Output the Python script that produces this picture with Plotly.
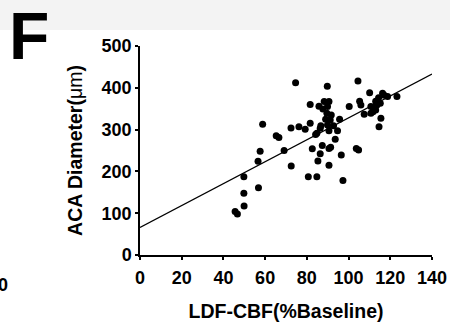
import plotly.graph_objects as go

# Data
ldf_cbf = [45.6, 46.7, 49.9, 49.8, 49.8, 56.8, 56.6, 57.6, 58.8, 65.3, 66.6, 69.1, 72.5, 72.4,
           74.6, 76.2, 79.2, 81.6, 81.6, 80.7, 84.8, 82.6, 84.2, 84.8, 85.3, 85.8, 86.4, 86.4,
           86.7, 87.4, 87.7, 88.3, 89.0, 89.6, 89.8, 89.9, 89.9, 90.6, 90.6, 90.6, 91.4, 90.6,
           91.2, 91.7, 92.8, 93.6, 94.7, 95.7, 96.5, 97.3, 100.3, 103.7, 104.8, 104.5, 105.3,
           105.9, 107.5, 110.1, 110.7, 110.7, 111.7, 113.0, 113.0, 113.6, 114.4, 114.6, 115.2,
           115.5, 116.3, 117.1, 118.7, 123.2]
aca_diameter = [104, 98, 117, 148, 187, 161, 224, 248, 313, 285, 281, 250, 213, 304,
                412, 307, 301, 315, 360, 187, 187, 254, 288, 291, 225, 356, 242, 303,
                309, 262, 349, 367, 325, 339, 404, 311, 355, 367, 297, 255, 258, 215,
                323, 335, 309, 277, 297, 325, 239, 178, 355, 255, 251, 416, 368,
                359, 337, 388, 355, 339, 343, 347, 368, 359, 376, 307, 363,
                327, 387, 382, 379, 379]

fit_x = [0, 140]
fit_intercept = 66
fit_slope = 2.62
fit_y = [fit_intercept + fit_slope * v for v in fit_x]

x_ticks = [0, 20, 40, 60, 80, 100, 120, 140]
y_ticks = [0, 100, 200, 300, 400, 500]

FONT = "Liberation Sans, Arial, sans-serif"

fig = go.Figure()
fig.add_trace(go.Scatter(x=fit_x, y=fit_y, mode="lines",
                         line=dict(color="black", width=1.3), hoverinfo="skip"))
fig.add_trace(go.Scatter(x=ldf_cbf, y=aca_diameter, mode="markers",
                         marker=dict(color="black", size=7, line=dict(width=0))))

axis_common = dict(showgrid=False, zeroline=False, showline=True, linecolor="black",
                   linewidth=1.5, ticks="outside", ticklen=3, tickwidth=1.5, tickcolor="black",
                   tickfont=dict(family=FONT, size=18, color="black", weight="bold"))

fig.update_xaxes(range=[0, 140], tickvals=x_ticks, ticktext=[str(v) for v in x_ticks],
                 ticklabelstandoff=3,
                 title=dict(text="LDF-CBF(%Baseline)", standoff=19,
                            font=dict(family=FONT, size=19.5, color="black", weight="bold")),
                 **axis_common)
fig.update_yaxes(range=[0, 500], tickvals=y_ticks, ticktext=[str(v) for v in y_ticks],
                 title=dict(text="ACA Diameter(<span style='font-weight:normal'>μm</span>)", standoff=14,
                            font=dict(family=FONT, size=19.5, color="black", weight="bold")),
                 **axis_common)

fig.update_layout(
    width=450, height=322,
    margin=dict(l=140, r=18, t=46, b=67, autoexpand=False),
    paper_bgcolor="white", plot_bgcolor="white",
    showlegend=False,
    shapes=[dict(type="rect", xref="paper", yref="paper", x0=-0.5, x1=1.1, y0=1.077, y1=1.25,
                 fillcolor="#f3f3f3", line=dict(width=0), layer="below")],
    annotations=[
        dict(text="F", xref="paper", yref="paper", x=(29 - 140) / 292, y=(255 - 36) / 209,
             xanchor="center", yanchor="middle", showarrow=False,
             font=dict(family=FONT, size=66, color="black", weight="bold")),
        dict(text="0", xref="paper", yref="paper", x=(3 - 140) / 292, y=(255 - 285) / 209,
             xanchor="center", yanchor="middle", showarrow=False,
             font=dict(family=FONT, size=18, color="black", weight="bold")),
    ],
)

fig.write_html("out.html", config={"displayModeBar": False},
               post_script="document.body.style.margin='0';document.body.style.padding='0';")
